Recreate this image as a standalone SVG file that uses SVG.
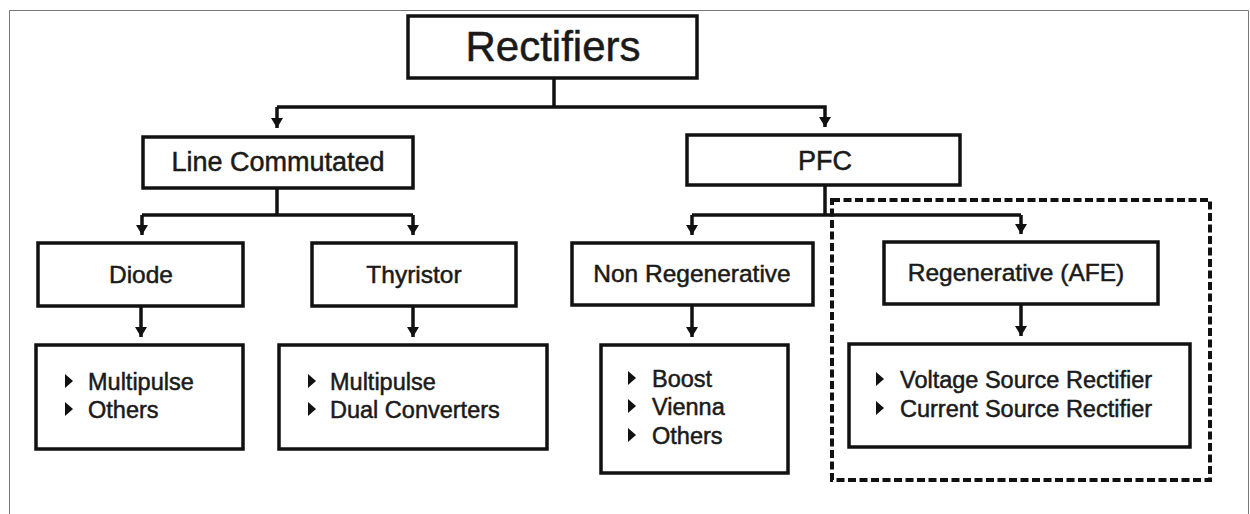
<svg xmlns="http://www.w3.org/2000/svg" width="1250" height="514" viewBox="0 0 1250 514">
<style>
.box{fill:#fff;stroke:#111;stroke-width:3.5}
.t{font-family:"Liberation Sans",Arial,sans-serif;fill:#1a1a1a;stroke:#1a1a1a;stroke-width:0.5;text-anchor:middle}
.b{font-family:"Liberation Sans",Arial,sans-serif;fill:#1a1a1a;stroke:#1a1a1a;stroke-width:0.5;font-size:23.5px}
.c{fill:none;stroke:#111;stroke-width:3.5}
.bul{fill:#111}
</style>
<defs>
<marker id="ad" markerUnits="userSpaceOnUse" markerWidth="14" markerHeight="14" viewBox="0 0 14 14" refX="7" refY="13" orient="0">
<path d="M1,3 L13,3 L7,13 Z" fill="#111"/>
</marker>
</defs>
<rect width="1250" height="514" fill="#fff"/>
<path d="M9.5,514 V10.5 H1248.5 V514" fill="none" stroke="#777" stroke-width="1"/>

<g id="connectors">
<path class="c" d="M554,78 V107"/>
<path class="c" d="M277,107 H825 V127" marker-end="url(#ad)"/>
<path class="c" d="M277,107 V128" marker-end="url(#ad)"/>
<path class="c" d="M277,188 V215"/>
<path class="c" d="M142,215 H413"/>
<path class="c" d="M142,215 V235" marker-end="url(#ad)"/>
<path class="c" d="M413,215 V235" marker-end="url(#ad)"/>
<path class="c" d="M141,306 V337" marker-end="url(#ad)"/>
<path class="c" d="M413,306 V337" marker-end="url(#ad)"/>
<path class="c" d="M825,185 V215"/>
<path class="c" d="M692,215 H1021"/>
<path class="c" d="M692,215 V235" marker-end="url(#ad)"/>
<path class="c" d="M1021,215 V234" marker-end="url(#ad)"/>
<path class="c" d="M692,305 V337" marker-end="url(#ad)"/>
<path class="c" d="M1021,304 V336" marker-end="url(#ad)"/>
</g>

<g id="afe-group">
<rect x="832" y="200" width="378" height="280" fill="none" stroke="#111" stroke-width="4" stroke-dasharray="8 3.5"/>
</g>

<g id="rectifiers">
<rect class="box" x="408" y="16" width="289" height="62"/>
<text class="t" x="553" y="61" font-size="42">Rectifiers</text>
</g>
<g id="line-commutated">
<rect class="box" x="143" y="137" width="270" height="51"/>
<text class="t" x="278" y="171" font-size="27">Line Commutated</text>
</g>
<g id="pfc">
<rect class="box" x="687" y="135" width="273" height="50"/>
<text class="t" x="825" y="170" font-size="27">PFC</text>
</g>
<g id="diode">
<rect class="box" x="38" y="243" width="205" height="63"/>
<text class="t" x="141" y="283" font-size="24.5">Diode</text>
</g>
<g id="thyristor">
<rect class="box" x="312" y="243" width="204" height="63"/>
<text class="t" x="414" y="283" font-size="24.5">Thyristor</text>
</g>
<g id="non-regenerative">
<rect class="box" x="572" y="243" width="241" height="62"/>
<text class="t" x="692" y="282" font-size="24.5">Non Regenerative</text>
</g>
<g id="regenerative">
<rect class="box" x="884" y="242" width="274" height="62"/>
<text class="t" x="1016" y="281" font-size="24.5">Regenerative (AFE)</text>
</g>

<g id="diode-list">
<rect class="box" x="36" y="345" width="207" height="104"/>
<path class="bul" d="M65,374 L73,381 L65,388 Z"/>
<text class="b" x="88" y="390">Multipulse</text>
<path class="bul" d="M65,402 L73,409 L65,416 Z"/>
<text class="b" x="88" y="418">Others</text>
</g>
<g id="thyristor-list">
<rect class="box" x="279" y="345" width="268" height="104"/>
<path class="bul" d="M308,374 L316,381 L308,388 Z"/>
<text class="b" x="330" y="390">Multipulse</text>
<path class="bul" d="M308,402 L316,409 L308,416 Z"/>
<text class="b" x="330" y="418">Dual Converters</text>
</g>
<g id="nonregen-list">
<rect class="box" x="601" y="345" width="187" height="128"/>
<path class="bul" d="M628,371 L636,378 L628,385 Z"/>
<text class="b" x="652" y="387">Boost</text>
<path class="bul" d="M628,399 L636,406 L628,413 Z"/>
<text class="b" x="652" y="415">Vienna</text>
<path class="bul" d="M628,428 L636,435 L628,442 Z"/>
<text class="b" x="652" y="444">Others</text>
</g>
<g id="regen-list">
<rect class="box" x="849" y="344" width="341" height="103"/>
<path class="bul" d="M876,372 L884,379 L876,386 Z"/>
<text class="b" x="900" y="388">Voltage Source Rectifier</text>
<path class="bul" d="M876,401 L884,408 L876,415 Z"/>
<text class="b" x="900" y="417">Current Source Rectifier</text>
</g>
</svg>
